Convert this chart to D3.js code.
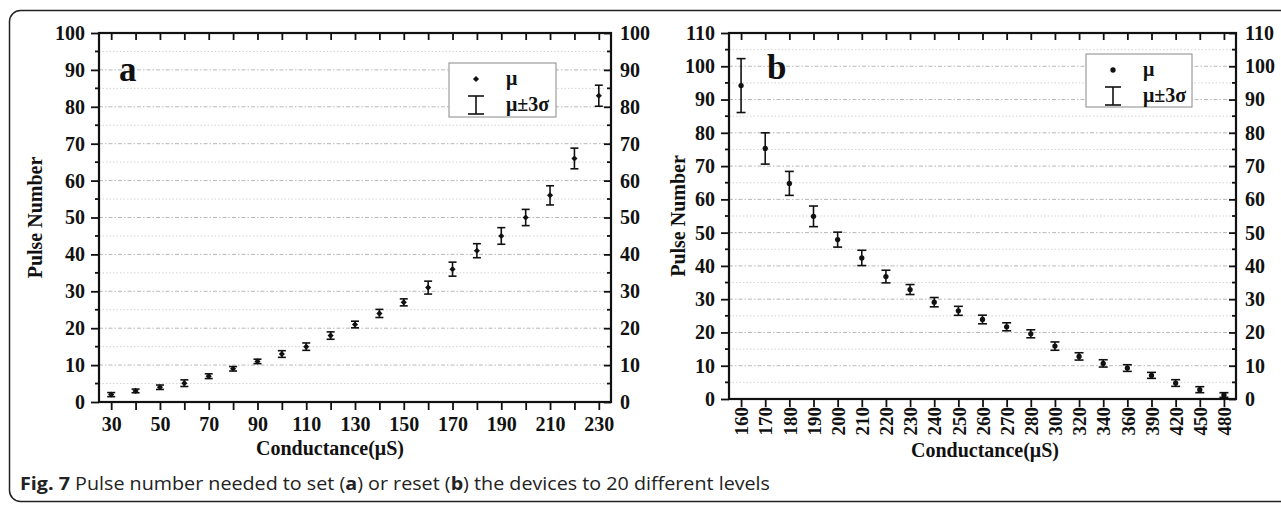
<!DOCTYPE html>
<html>
<head>
<meta charset="utf-8">
<script src="https://cdn.jsdelivr.net/npm/d3@7"></script>
<style>
  html, body { margin: 0; padding: 0; background: #fff; }
  svg { display: block; }
</style>
</head>
<body>
<svg id="chart" width="1281" height="506"></svg>
<script>
// ---------- DATA ----------
const condA = [30, 40, 50, 60, 70, 80, 90, 100, 110, 120, 130, 140, 150, 160, 170, 180, 190, 200, 210, 220, 230];
const meanA = [2, 3, 4, 5.1, 7, 9, 11, 13, 15, 18, 21, 24, 27, 31, 36, 41, 45, 50, 56, 66, 83];
const errA  = [0.55, 0.5, 0.6, 0.9, 0.65, 0.6, 0.6, 0.9, 1, 1, 0.9, 1.1, 0.95, 1.75, 1.9, 1.9, 2.25, 2.2, 2.6, 2.8, 2.85];
const xLabelsA = [30, 50, 70, 90, 110, 130, 150, 170, 190, 210, 230];
const yTicksA = [0, 10, 20, 30, 40, 50, 60, 70, 80, 90, 100];
const yMinorA = [5, 15, 25, 35, 45, 55, 65, 75, 85, 95];

const condB = [160, 170, 180, 190, 200, 210, 220, 230, 240, 250, 260, 270, 280, 300, 320, 340, 360, 390, 420, 450, 480];
const meanB = [94.2, 75.3, 64.8, 54.9, 47.9, 42.4, 36.8, 32.9, 29.1, 26.5, 23.9, 21.7, 19.6, 15.9, 12.8, 10.7, 9.3, 7.1, 4.8, 2.8, 1.2];
const errB  = [8.1, 4.7, 3.6, 3.1, 2.25, 2.3, 1.9, 1.5, 1.4, 1.35, 1.3, 1.2, 1.2, 1.25, 1.1, 1.1, 1.0, 0.9, 1.0, 0.9, 0.7];
const xLabelsB = condB;
const yTicksB = [0, 10, 20, 30, 40, 50, 60, 70, 80, 90, 100, 110];
const yMinorB = [5, 15, 25, 35, 45, 55, 65, 75, 85, 95, 105];

const yLabel = "Pulse Number";
const xLabel = "Conductance(\u03bcS)";
const legendMean = "\u03bc";
const legendErr = "\u03bc\u00b13\u03c3";
const captionBold = "Fig. 7";
const captionRest = [" Pulse number needed to set (", "a", ") or reset (", "b", ") the devices to 20 different levels"];

// ---------- DRAW ----------
const svg = d3.select("#chart");
const serif = "'Liberation Serif', 'Times New Roman', serif";
const diamondType = d3.symbolDiamond2 || d3.symbolSquare;

// outer frame
svg.append("rect")
  .attr("x", 9.5).attr("y", 10.5).attr("width", 1300).attr("height", 491)
  .attr("rx", 11).attr("ry", 11)
  .attr("fill", "none").attr("stroke", "#222").attr("stroke-width", 1.5);

function panel(cfg) {
  const g = svg.append("g");
  const x = d3.scalePoint().domain(cfg.cats).range([cfg.left, cfg.right]).padding(0.5);
  const y = d3.scaleLinear().domain([0, cfg.ymax]).range([cfg.bottom, cfg.top]);

  // gridlines
  g.append("g").selectAll("line").data(cfg.yMinor).join("line")
    .attr("x1", cfg.left).attr("x2", cfg.right)
    .attr("y1", d => y(d)).attr("y2", d => y(d))
    .attr("stroke", "#c8c8c8").attr("stroke-width", 0.8).attr("stroke-dasharray", "1.5,2");
  g.append("g").selectAll("line").data(cfg.yTicks.filter(d => d > 0 && d < cfg.ymax)).join("line")
    .attr("x1", cfg.left).attr("x2", cfg.right)
    .attr("y1", d => y(d)).attr("y2", d => y(d))
    .attr("stroke", "#b0b0b0").attr("stroke-width", 0.9).attr("stroke-dasharray", "4,2,1.5,2");

  // axes
  const axL = d3.axisLeft(y).tickValues(cfg.yTicks).tickSize(8).tickPadding(6);
  const axR = d3.axisRight(y).tickValues(cfg.yTicks).tickSize(-7).tickPadding(9);
  const axB = d3.axisBottom(x).tickSize(8).tickPadding(7)
    .tickFormat(d => cfg.xLabels.includes(d) ? d : "");
  const axT = d3.axisTop(x).tickSize(-7).tickFormat("");

  const gl = g.append("g").attr("transform", `translate(${cfg.left},0)`).call(axL);
  const gr = g.append("g").attr("transform", `translate(${cfg.right},0)`).call(axR);
  const gb = g.append("g").attr("transform", `translate(0,${cfg.bottom})`).call(axB);
  const gt = g.append("g").attr("transform", `translate(0,${cfg.top})`).call(axT);

  // minor y ticks
  g.append("g").selectAll("line").data(cfg.yMinor).join("line")
    .attr("x1", cfg.left - 4).attr("x2", cfg.left)
    .attr("y1", d => y(d)).attr("y2", d => y(d))
    .attr("stroke", "#111").attr("stroke-width", 1.8);
  g.append("g").selectAll("line").data(cfg.yMinor).join("line")
    .attr("x1", cfg.right - 4).attr("x2", cfg.right)
    .attr("y1", d => y(d)).attr("y2", d => y(d))
    .attr("stroke", "#111").attr("stroke-width", 1.8);

  [gl, gr, gb, gt].forEach(a => {
    a.selectAll(".tick line").attr("stroke", "#111").attr("stroke-width", 1.8);
    a.selectAll("text").attr("font-family", serif).attr("font-weight", "bold")
      .attr("font-size", 20).attr("fill", "#111");
    a.select(".domain").remove();
  });
  g.append("rect").attr("x", cfg.left).attr("y", cfg.top)
    .attr("width", cfg.right - cfg.left).attr("height", cfg.bottom - cfg.top)
    .attr("fill", "none").attr("stroke", "#111").attr("stroke-width", 2.2);

  if (cfg.rotate) {
    gb.selectAll(".tick text")
      .attr("font-size", 19)
      .attr("transform", "rotate(-90)")
      .attr("text-anchor", "end")
      .attr("x", -8).attr("y", 0).attr("dy", "0.35em");
  }

  // error bars
  const cap = cfg.cap;
  const eb = g.append("g").attr("stroke", "#111").attr("stroke-width", 1.6);
  cfg.cats.forEach((c, i) => {
    const cx = x(c), hi = y(cfg.mean[i] + cfg.err[i]), lo = y(cfg.mean[i] - cfg.err[i]);
    eb.append("line").attr("x1", cx).attr("x2", cx).attr("y1", hi).attr("y2", lo);
    eb.append("line").attr("x1", cx - cap).attr("x2", cx + cap).attr("y1", hi).attr("y2", hi);
    eb.append("line").attr("x1", cx - cap).attr("x2", cx + cap).attr("y1", lo).attr("y2", lo);
  });

  // points
  const sym = d3.symbol().type(cfg.symbol).size(cfg.symSize);
  g.append("g").selectAll("path").data(cfg.cats).join("path")
    .attr("d", sym)
    .attr("transform", (d, i) => `translate(${x(d)},${y(cfg.mean[i])})`)
    .attr("fill", "#111");

  // axis titles
  g.append("text")
    .attr("transform", `translate(${cfg.yTitleX},${(cfg.top + cfg.bottom) / 2}) rotate(-90)`)
    .attr("text-anchor", "middle")
    .attr("font-family", serif).attr("font-weight", "bold").attr("font-size", 20).attr("fill", "#111")
    .text(yLabel);
  g.append("text")
    .attr("x", cfg.xTitleX).attr("y", cfg.xTitleY)
    .attr("text-anchor", "middle")
    .attr("font-family", serif).attr("font-weight", "bold").attr("font-size", 20).attr("fill", "#111")
    .text(xLabel);

  // panel letter
  g.append("text").attr("x", cfg.letterX).attr("y", cfg.letterY)
    .attr("font-family", serif).attr("font-weight", "bold").attr("font-size", 35).attr("fill", "#111")
    .text(cfg.letter);

  // legend
  const L = cfg.legend;
  g.append("rect").attr("x", L.x).attr("y", L.y).attr("width", L.w).attr("height", L.h)
    .attr("fill", "#fff").attr("stroke", "#888").attr("stroke-width", 1);
  g.append("path").attr("d", d3.symbol().type(cfg.symbol).size(cfg.symSize)())
    .attr("transform", `translate(${L.x + 27},${L.y + 16})`).attr("fill", "#111");
  const lg = g.append("g").attr("stroke", "#111").attr("stroke-width", 1.6);
  const ex = L.x + 27, e1 = L.y + 33, e2 = L.y + 51;
  lg.append("line").attr("x1", ex).attr("x2", ex).attr("y1", e1).attr("y2", e2);
  lg.append("line").attr("x1", ex - 8).attr("x2", ex + 8).attr("y1", e1).attr("y2", e1);
  lg.append("line").attr("x1", ex - 8).attr("x2", ex + 8).attr("y1", e2).attr("y2", e2);
  g.append("text").attr("x", L.x + 57).attr("y", L.y + 22)
    .attr("font-family", serif).attr("font-weight", "bold").attr("font-size", 20).attr("fill", "#111")
    .text(legendMean);
  g.append("text").attr("x", L.x + 57).attr("y", L.y + 48)
    .attr("font-family", serif).attr("font-weight", "bold").attr("font-size", 20).attr("fill", "#111")
    .text(legendErr);
}

panel({
  cats: condA, mean: meanA, err: errA, xLabels: xLabelsA,
  yTicks: yTicksA, yMinor: yMinorA, ymax: 100,
  left: 99, right: 611, top: 33, bottom: 402,
  rotate: false, cap: 4, symbol: diamondType, symSize: 24,
  yTitleX: 42, xTitleX: 330, xTitleY: 455,
  letter: "a", letterX: 119, letterY: 81,
  legend: { x: 449, y: 63, w: 107, h: 54 }
});

panel({
  cats: condB, mean: meanB, err: errB, xLabels: xLabelsB,
  yTicks: yTicksB, yMinor: yMinorB, ymax: 110,
  left: 729, right: 1236, top: 33, bottom: 399,
  rotate: true, cap: 4.5, symbol: d3.symbolCircle, symSize: 22,
  yTitleX: 685, xTitleX: 985, xTitleY: 457,
  letter: "b", letterX: 767, letterY: 79,
  legend: { x: 1086, y: 54, w: 106, h: 53 }
});

// caption
const cap = svg.append("text").attr("x", 20).attr("y", 490)
  .attr("font-family", "'Open Sans', 'Noto Sans', sans-serif").attr("font-size", 18).attr("fill", "#222")
  .attr("textLength", 750).attr("lengthAdjust", "spacingAndGlyphs");
cap.append("tspan").attr("font-weight", "bold").text(captionBold);
captionRest.forEach((t, i) => {
  cap.append("tspan").attr("font-weight", (i === 1 || i === 3) ? "bold" : "normal").text(t);
});
</script>
</body>
</html>
